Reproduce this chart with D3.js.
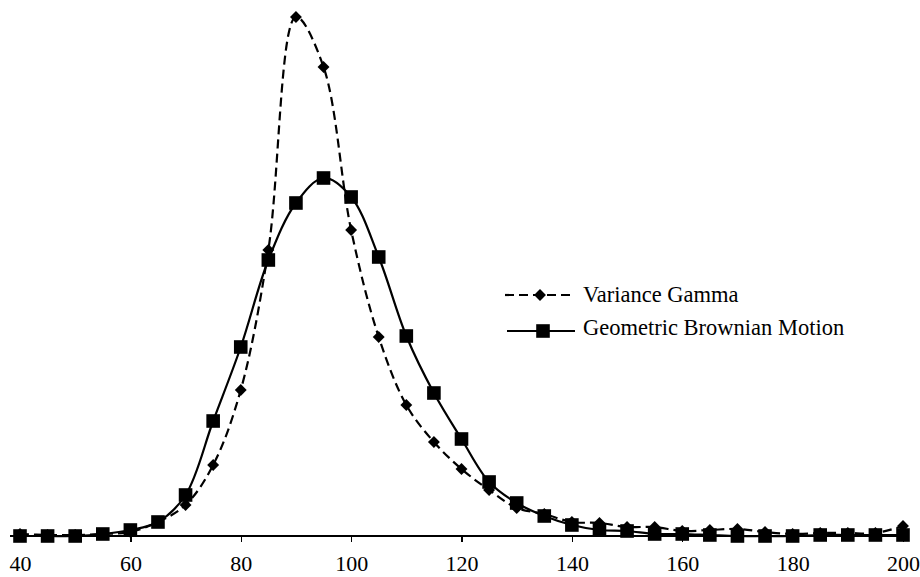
<!DOCTYPE html>
<html lang="en">
  <head>
    <meta charset="utf-8">
    <title>Variance Gamma vs GBM</title>
    <script src="https://cdn.jsdelivr.net/npm/d3@7"></script>
    <style>
      body { margin: 0; background: #fff; }
      .axis path, .axis line { stroke: #000; stroke-width: 1.3; shape-rendering: crispEdges; }
      .axis text { font-family: "Liberation Serif", "Times New Roman", serif; font-size: 22px; fill: #000; }
      .legend text { font-family: "Liberation Serif", "Times New Roman", serif; font-size: 22.5px; fill: #000; }
    </style>
  </head>
  <body>
    <script>
      var w = 920, h = 577;

      // price levels (x)
      var prices = [40, 45, 50, 55, 60, 65, 70, 75, 80, 85, 90, 95, 100, 105, 110, 115, 120,
                    125, 130, 135, 140, 145, 150, 155, 160, 165, 170, 175, 180, 185, 190, 195, 200];

      // series values (arbitrary density units)
      var vg  = [0.2, 0.1, 0.1, 0.2, 0.4, 1.4, 3.1, 7.1, 14.6, 28.6, 51.9, 46.9, 30.6, 19.9, 13.1, 9.4, 6.7,
                 4.6, 2.8, 2.2, 1.4, 1.3, 0.9, 0.9, 0.5, 0.6, 0.7, 0.4, 0.2, 0.3, 0.3, 0.3, 1.0];
      var gbm = [0.0, 0.0, 0.0, 0.2, 0.6, 1.4, 4.1, 11.5, 18.9, 27.6, 33.3, 35.8, 33.9, 27.9, 20.0, 14.3, 9.7,
                 5.4, 3.3, 2.0, 1.1, 0.6, 0.5, 0.2, 0.2, 0.1, 0.0, 0.0, 0.0, 0.1, 0.1, 0.1, 0.1];

      var xTicks = [40, 60, 80, 100, 120, 140, 160, 180, 200];
      var seriesNames = ["Variance Gamma", "Geometric Brownian Motion"];

      var xScale = d3.scaleLinear().domain([40, 200]).range([20, 903]);
      var yScale = d3.scaleLinear().domain([0, 51.9]).range([536, 17]);

      var svg = d3.select("body").append("svg")
          .attr("width", w)
          .attr("height", h);

      // x axis
      var xAxis = d3.axisBottom(xScale)
          .tickValues(xTicks)
          .tickFormat(d3.format("d"))
          .tickSize(6)
          .tickSizeOuter(0)
          .tickPadding(13);

      var gx = svg.append("g")
          .attr("class", "axis")
          .attr("transform", "translate(0," + yScale(0) + ")")
          .call(xAxis);
      gx.select(".domain").attr("d", "M" + (xScale(40) - 10) + ",0H" + (xScale(200) + 5));

      var line = d3.line()
          .x(function(d, i) { return xScale(prices[i]); })
          .y(function(d) { return yScale(d); })
          .curve(d3.curveCatmullRom.alpha(0.5));

      // Variance Gamma: dashed with diamonds
      svg.append("path")
          .datum(vg)
          .attr("fill", "none")
          .attr("stroke", "#000")
          .attr("stroke-width", 2.2)
          .attr("stroke-dasharray", "9,5")
          .attr("d", line);

      // GBM: solid with squares
      svg.append("path")
          .datum(gbm)
          .attr("fill", "none")
          .attr("stroke", "#000")
          .attr("stroke-width", 2.2)
          .attr("d", line);

      var diamond = d3.symbol().type(d3.symbolDiamond2).size(90);
      var square = d3.symbol().type(d3.symbolSquare).size(185);

      svg.selectAll(".vgpt")
          .data(vg)
          .enter()
          .append("path")
          .attr("class", "vgpt")
          .attr("transform", function(d, i) { return "translate(" + xScale(prices[i]) + "," + yScale(d) + ")"; })
          .attr("d", diamond)
          .attr("fill", "#000");

      svg.selectAll(".gbmpt")
          .data(gbm)
          .enter()
          .append("path")
          .attr("class", "gbmpt")
          .attr("transform", function(d, i) { return "translate(" + xScale(prices[i]) + "," + yScale(d) + ")"; })
          .attr("d", square)
          .attr("fill", "#000");

      // legend
      var legend = svg.append("g").attr("class", "legend");
      var ly = [295, 331];

      legend.append("line")
          .attr("x1", 505).attr("x2", 573).attr("y1", ly[0]).attr("y2", ly[0])
          .attr("stroke", "#000").attr("stroke-width", 2.2).attr("stroke-dasharray", "9,5");
      legend.append("path")
          .attr("transform", "translate(540," + ly[0] + ")")
          .attr("d", diamond);
      legend.append("line")
          .attr("x1", 507).attr("x2", 575).attr("y1", ly[1]).attr("y2", ly[1])
          .attr("stroke", "#000").attr("stroke-width", 2.2);
      legend.append("path")
          .attr("transform", "translate(543," + ly[1] + ")")
          .attr("d", square);

      legend.selectAll("text")
          .data(seriesNames)
          .enter()
          .append("text")
          .attr("x", 583)
          .attr("y", function(d, i) { return [302, 335][i]; })
          .text(function(d) { return d; });
    </script>
  </body>
</html>
